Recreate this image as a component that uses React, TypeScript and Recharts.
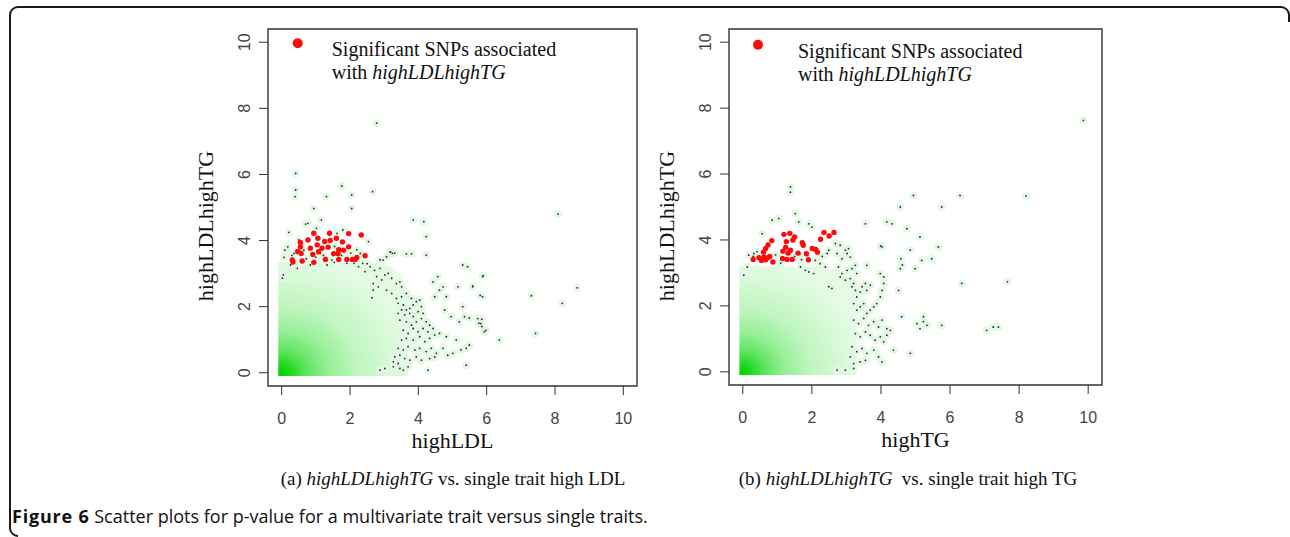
import React from "react";
import { ScatterChart, Scatter, XAxis, YAxis, ReferenceArea, Label } from "recharts";

type Pt = [number, number];

const ticks = [0, 2, 4, 6, 8, 10];
const domain: [number, number] = [-0.4, 10.4];

// (a) highLDL vs highLDLhighTG
const leftRed: Pt[] = [
  [0.31, 3.41], [0.33, 3.35], [0.47, 3.67], [0.55, 3.94], [0.55, 3.81], [0.6, 3.38],
  [0.57, 3.61], [0.77, 4.02], [0.84, 3.77], [0.94, 4.22], [0.91, 3.58], [0.94, 3.34],
  [1.04, 3.87], [1.06, 4.07], [1.08, 3.66], [1.18, 3.77], [1.26, 3.97], [1.28, 3.43],
  [1.4, 4.22], [1.36, 3.8], [1.42, 4.0], [1.52, 3.6], [1.6, 4.07], [1.65, 3.6],
  [1.67, 3.72], [1.67, 3.43], [1.78, 3.96], [1.81, 3.71], [1.91, 3.43], [1.96, 3.81],
  [1.96, 4.21], [2.07, 3.43], [2.15, 3.43], [2.2, 3.49], [2.33, 4.17], [2.44, 3.54],
];

const leftDots: Pt[] = [
  [0.02, 2.86], [0.05, 2.96], [0.07, 3.49], [0.09, 3.71], [0.21, 4.25], [0.18, 3.81],
  [0.26, 3.26], [0.36, 3.61], [0.46, 3.16], [0.5, 4.02], [0.65, 3.71], [0.7, 4.5],
  [0.77, 4.52], [0.84, 3.26], [0.94, 4.97], [1.02, 4.37], [1.13, 3.61], [1.16, 4.62],
  [1.31, 5.33], [1.33, 3.26], [1.47, 3.41], [1.54, 3.34], [1.62, 4.22], [1.76, 5.65],
  [1.79, 4.32], [1.91, 3.31], [2.05, 5.38], [2.05, 4.97], [2.12, 3.31], [2.25, 3.21],
  [2.3, 3.61], [2.37, 3.31], [2.44, 3.06], [2.54, 3.97], [2.66, 5.48], [2.59, 3.21],
  [2.64, 2.27], [2.68, 2.5], [2.78, 7.55], [0.41, 6.03], [0.41, 5.53], [0.39, 5.33],
  [0.3, 3.55], [0.72, 3.45], [1.0, 3.5], [1.22, 3.55], [1.55, 3.82], [1.75, 3.55],
  [2.02, 3.62], [2.2, 3.72], [2.5, 3.3], [2.72, 3.1],
  [2.88, 3.42], [3.17, 3.66], [3.31, 3.62], [3.65, 3.6], [3.8, 3.6],
  [2.88, 3.16], [2.97, 3.41], [3.07, 3.51], [3.19, 3.66], [3.24, 3.61],
  [2.78, 2.91], [2.93, 2.81], [3.02, 2.96], [3.12, 3.01], [3.22, 2.86], [3.36, 2.7],
  [3.46, 2.75], [3.51, 2.6], [2.68, 2.7], [2.83, 2.6], [3.07, 2.5], [3.22, 2.4],
  [3.36, 2.25], [3.51, 2.3], [3.65, 2.4], [3.8, 2.25], [3.41, 2.1], [3.56, 2.05],
  [3.65, 1.9], [3.75, 1.95], [3.85, 2.05], [3.94, 2.15], [4.04, 2.2], [3.41, 1.8],
  [3.51, 1.9], [3.6, 1.75], [3.75, 1.8], [3.85, 1.7], [3.99, 1.85], [4.09, 2.0],
  [4.14, 1.8], [3.46, 1.59], [3.65, 1.54], [3.8, 1.44], [3.94, 1.54], [4.09, 1.64],
  [4.23, 1.54], [4.33, 1.44], [3.56, 1.29], [3.7, 1.19], [3.85, 1.34], [3.99, 1.24],
  [4.14, 1.34], [4.28, 1.24], [4.43, 1.34], [3.51, 0.99], [3.65, 1.04], [3.85, 0.99],
  [4.04, 1.09], [4.19, 0.94], [4.33, 1.04], [4.48, 1.14], [3.41, 0.74], [3.56, 0.69],
  [3.7, 0.79], [3.9, 0.69], [4.04, 0.74], [4.23, 0.64], [4.38, 0.74], [4.53, 0.59],
  [3.31, 0.48], [3.46, 0.53], [3.6, 0.43], [3.75, 0.38], [3.94, 0.48], [4.09, 0.38],
  [4.33, 0.43], [4.48, 0.48], [2.88, 0.08], [3.02, 0.13], [3.27, 0.18], [3.46, 0.13],
  [3.56, 0.08], [3.7, 0.18], [4.28, 0.08], [3.27, 0.33], [3.41, 0.28],
  [4.43, 2.75], [4.57, 2.91], [4.72, 2.6], [4.82, 2.3], [4.62, 2.5], [4.48, 2.3],
  [4.77, 1.9], [4.96, 1.7], [4.82, 1.09], [5.11, 0.99], [5.2, 1.54], [5.35, 1.7],
  [4.62, 1.19], [4.72, 0.74], [4.86, 0.53], [5.01, 0.59], [5.25, 0.69], [5.4, 0.74],
  [5.49, 0.84], [5.16, 2.6], [5.3, 2.0], [5.4, 0.23], [5.59, 2.6], [5.74, 1.64],
  [5.83, 1.49], [5.93, 1.24], [5.3, 3.26], [5.44, 3.21], [5.88, 2.3], [5.88, 2.91],
  [5.9, 2.94], [5.59, 2.63], [5.81, 2.34], [5.49, 1.66], [5.86, 1.62], [5.77, 1.5],
  [5.86, 1.4], [5.98, 1.28], [6.37, 0.99], [7.43, 1.19], [7.31, 2.33], [8.21, 2.1],
  [8.65, 2.57], [8.09, 4.8], [3.85, 4.62], [4.16, 4.57], [4.23, 4.12], [4.23, 3.56],
];

// (b) highTG vs highLDLhighTG
const rightRed: Pt[] = [
  [0.3, 3.41], [0.47, 3.46], [0.54, 3.38], [0.61, 3.48], [0.66, 3.4], [0.72, 3.46],
  [0.78, 3.5], [0.6, 3.63], [0.66, 3.74], [0.73, 3.85], [0.87, 3.33], [0.84, 3.98],
  [1.19, 4.17], [1.16, 3.66], [1.24, 3.77], [1.31, 3.6], [1.26, 3.95], [1.36, 4.2],
  [1.45, 4.0], [1.5, 4.09], [1.15, 3.44], [1.28, 3.41], [1.43, 3.41], [1.6, 3.6],
  [1.72, 3.92], [1.75, 3.84], [1.84, 3.58], [1.9, 3.4], [2.01, 3.74], [2.11, 3.71],
  [2.16, 3.63], [2.25, 4.02], [2.35, 4.23], [2.5, 4.12], [2.64, 4.23], [1.38, 3.69],
];

const rightDots: Pt[] = [
  [0.03, 2.93], [0.13, 3.18], [0.17, 3.54], [0.32, 3.59], [0.41, 3.64], [0.56, 4.19],
  [0.85, 4.6], [1.04, 4.65], [1.38, 5.61], [1.38, 5.45], [1.52, 4.8], [1.62, 4.55],
  [1.91, 4.49], [2.0, 4.39], [2.1, 3.38], [2.24, 3.28], [2.39, 3.18], [1.67, 3.18],
  [1.81, 3.08], [1.91, 3.03], [2.05, 2.98], [2.49, 3.69], [2.44, 3.59], [2.49, 2.58],
  [2.58, 2.53], [2.68, 3.89], [2.82, 3.84], [2.97, 3.69], [3.06, 3.74], [2.73, 3.59],
  [2.87, 3.43], [3.02, 3.59], [3.11, 3.48], [2.77, 3.18], [2.87, 2.98], [3.02, 3.08],
  [3.16, 3.13], [3.26, 3.23], [2.82, 2.88], [2.97, 2.78], [3.11, 2.83], [3.21, 2.68],
  [3.3, 2.98], [3.16, 2.58], [3.26, 2.47], [3.4, 2.42], [3.3, 2.27], [3.45, 2.58],
  [3.55, 2.68], [3.59, 2.47], [3.69, 2.63], [3.21, 2.07], [3.3, 1.87], [3.4, 1.97],
  [3.5, 2.07], [3.59, 1.77], [3.69, 1.87], [3.79, 1.97], [3.88, 2.07], [3.98, 2.27],
  [4.03, 2.47], [4.08, 2.68], [4.08, 2.88], [3.98, 2.98], [3.21, 1.57], [3.35, 1.46],
  [3.5, 1.62], [3.64, 1.41], [3.79, 1.52], [3.93, 1.36], [4.03, 1.57], [4.17, 1.31],
  [3.26, 1.16], [3.4, 1.06], [3.55, 1.21], [3.69, 1.11], [3.83, 0.96], [3.98, 1.06],
  [4.08, 0.91], [4.17, 1.11], [3.16, 0.76], [3.3, 0.61], [3.45, 0.71], [3.59, 0.56],
  [3.79, 0.66], [3.93, 0.45], [4.03, 0.3], [3.11, 0.45], [3.21, 0.25], [3.4, 0.3],
  [3.55, 0.35], [2.73, 0.05], [2.97, 0.05], [3.21, 0.1], [3.59, 3.23], [3.55, 4.49],
  [4.17, 4.55], [4.32, 4.49], [4.03, 3.79], [3.99, 3.82], [4.56, 5.0], [4.58, 3.43],
  [4.56, 3.13], [4.62, 3.24], [4.51, 2.47], [4.6, 1.67], [4.27, 1.26], [4.36, 0.66],
  [4.75, 4.34], [4.85, 3.69], [4.99, 3.13], [4.94, 5.35], [5.13, 4.09], [5.18, 3.38],
  [4.85, 0.56], [5.76, 5.0], [5.66, 3.79], [5.47, 3.43], [5.76, 1.41], [5.04, 1.46],
  [5.13, 1.31], [5.23, 1.52], [5.33, 1.41], [5.23, 1.67], [6.29, 5.35], [6.34, 2.68],
  [7.06, 1.26], [7.25, 1.36], [7.4, 1.36], [7.66, 2.73], [8.2, 5.33], [9.86, 7.63],
  [0.3, 3.5], [0.95, 3.55], [1.1, 3.3], [1.5, 3.5], [1.7, 3.4], [2.3, 3.5],
];

const legendLeft: Pt[] = [[0.47, 9.97]];
const legendRight: Pt[] = [[0.44, 9.92]];
const legendText = ["Significant SNPs associated", "with ", "highLDLhighTG"];

const toPts = (a: Pt[]) => a.map(([x, y]) => ({ x, y }));

const SERIF = "'Liberation Serif', 'Times New Roman', serif";
const SANS = "'Liberation Sans', Arial, sans-serif";

const Halo = (p: any) => <circle cx={p.cx} cy={p.cy} r={4} fill="#e4f9e4" />;
const Dot = (p: any) => <circle cx={p.cx} cy={p.cy} r={0.9} fill="#262626" />;
const RedDot = (p: any) => <circle cx={p.cx} cy={p.cy} r={2.7} fill="#ff0a0a" />;

const legendShape = (dx: number) => (p: any) => (
  <g>
    <circle cx={p.cx} cy={p.cy} r={5} fill="#ff0a0a" />
    <text x={p.cx + dx} y={p.cy + 13} fontFamily={SERIF} fontSize={20} fill="#111">
      {legendText[0]}
    </text>
    <text x={p.cx + dx} y={p.cy + 36} fontFamily={SERIF} fontSize={20} fill="#111">
      {legendText[1]}
      <tspan fontStyle="italic">{legendText[2]}</tspan>
    </text>
  </g>
);

const densityShape = (id: string, r: number) => (p: any) => {
  const { x, y, width, height } = p;
  const d = `M${x},${y + height} L${x},${y} L${x + width - r},${y} C${x + width - r * 0.3},${y} ${x + width},${y + r * 0.3} ${x + width},${y + r} L${x + width},${y + height} Z`;
  return (
    <g>
      <defs>
        <radialGradient id={id} cx="0.02" cy="0.98" r="1.05">
          <stop offset="0" stopColor="#00d200" />
          <stop offset="0.08" stopColor="#22da22" />
          <stop offset="0.2" stopColor="#62e562" />
          <stop offset="0.36" stopColor="#98ef98" />
          <stop offset="0.56" stopColor="#bff5bf" />
          <stop offset="0.8" stopColor="#d6f9d6" />
          <stop offset="1" stopColor="#e6fbe6" />
        </radialGradient>
      </defs>
      <path d={d} fill={`url(#${id})`} />
    </g>
  );
};

const YTick = (p: any) => (
  <text
    x={p.x}
    y={p.y}
    transform={`rotate(-90 ${p.x} ${p.y})`}
    textAnchor="middle"
    fill="#444"
    fontSize={16}
    fontFamily={SANS}
  >
    {p.payload.value}
  </text>
);

const xTitle = (text: string) => (p: any) => {
  const vb = p.viewBox;
  return (
    <text x={vb.x + vb.width / 2} y={vb.y + 62} textAnchor="middle" fontFamily={SERIF} fontSize={22} fill="#111">
      {text}
    </text>
  );
};

const yTitle = (text: string) => (p: any) => {
  const vb = p.viewBox;
  const bx = vb.x + vb.width - 55;
  const cy = vb.y + 197;
  return (
    <text x={bx} y={cy} transform={`rotate(-90 ${bx} ${cy})`} textAnchor="middle" fontFamily={SERIF} fontSize={22} fill="#111">
      {text}
    </text>
  );
};

interface PanelProps {
  id: string;
  xLabel: string;
  red: Pt[];
  dots: Pt[];
  legend: Pt[];
  legendDx: number;
  density: [number, number, number, number];
  margin: { top: number; right: number; bottom: number; left: number };
}

function Panel({ id, xLabel, red, dots, legend, legendDx, density, margin }: PanelProps) {
  const dotData = toPts(dots);
  return (
    <ScatterChart width={470} height={460} margin={margin}>
      <XAxis
        type="number"
        dataKey="x"
        domain={domain}
        ticks={ticks}
        interval={0}
        allowDataOverflow
        axisLine={false}
        tickSize={9}
        tickMargin={18}
        tickLine={{ stroke: "#333" }}
        tick={{ fill: "#444", fontSize: 16, fontFamily: SANS }}
        height={60}
      >
        <Label content={xTitle(xLabel)} />
      </XAxis>
      <YAxis
        type="number"
        dataKey="y"
        domain={domain}
        ticks={ticks}
        interval={0}
        allowDataOverflow
        axisLine={false}
        tickSize={9}
        tickMargin={9}
        tickLine={{ stroke: "#333" }}
        tick={<YTick />}
        width={60}
      >
        <Label content={yTitle("highLDLhighTG")} />
      </YAxis>
      <ReferenceArea
        x1={density[0]}
        x2={density[1]}
        y1={density[2]}
        y2={density[3]}
        shape={densityShape(id, 42)}
      />
      <Scatter data={dotData} shape={Halo} isAnimationActive={false} />
      <Scatter data={dotData} shape={Dot} isAnimationActive={false} />
      <Scatter data={toPts(red)} shape={RedDot} isAnimationActive={false} />
      <Scatter data={toPts(legend)} shape={legendShape(legendDx)} isAnimationActive={false} />
      <ReferenceArea x1={-0.4} x2={10.4} y1={-0.4} y2={10.4} fill="none" stroke="#333" strokeWidth={1.4} />
    </ScatterChart>
  );
}

export default function App() {
  return (
    <div style={{ position: "absolute", left: 0, top: 0, width: 1290, height: 537, background: "#fff", overflow: "hidden" }}>
      <div style={{ position: "absolute", left: 180, top: 0 }}>
        <Panel
          id="densL"
          xLabel="highLDL"
          red={leftRed}
          dots={leftDots}
          legend={legendLeft}
          legendDx={34}
          density={[-0.1, 3.7, -0.1, 3.35]}
          margin={{ top: 29, right: 13, bottom: 14, left: 28 }}
        />
      </div>
      <div style={{ position: "absolute", left: 642, top: 0 }}>
        <Panel
          id="densR"
          xLabel="highTG"
          red={rightRed}
          dots={rightDots}
          legend={legendRight}
          legendDx={40}
          density={[-0.1, 3.3, -0.1, 3.2]}
          margin={{ top: 29, right: 10, bottom: 15, left: 27 }}
        />
      </div>
      <svg width={1290} height={537} style={{ position: "absolute", left: 0, top: 0, pointerEvents: "none" }}>
        <path
          d="M1289,22 L1289,15 A8,8 0 0 0 1281,7 L18,7 A8,8 0 0 0 10,15 L10,528 A8,8 0 0 0 18,536"
          fill="none"
          stroke="#1a1a1a"
          strokeWidth={2}
        />
        <text x={453} y={485} textAnchor="middle" fontFamily={SERIF} fontSize={19} fill="#111">
          (a) <tspan fontStyle="italic">highLDLhighTG</tspan> vs. single trait high LDL
        </text>
        <text x={908} y={485} textAnchor="middle" fontFamily={SERIF} fontSize={19} fill="#111" style={{ whiteSpace: "pre" }}>
          (b) <tspan fontStyle="italic">highLDLhighTG</tspan>{"  vs. single trait high TG"}
        </text>
        <text x={12} y={523} fontFamily="'Open Sans', sans-serif" fontSize={18} fill="#111">
          <tspan fontWeight="bold" letterSpacing={0.8}>Figure 6</tspan>
          <tspan> Scatter plots for p-value for a multivariate trait versus single traits.</tspan>
        </text>
      </svg>
    </div>
  );
}
